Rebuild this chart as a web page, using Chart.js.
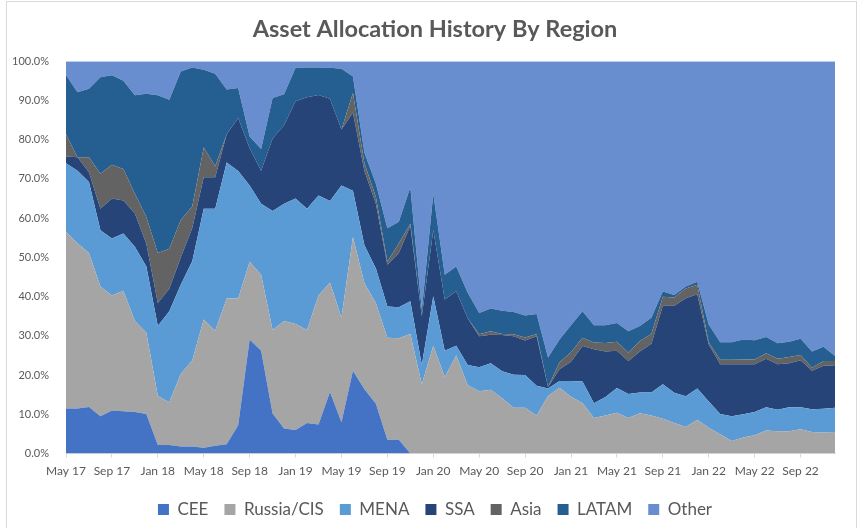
<!DOCTYPE html>
<html>
<head>
<meta charset="utf-8">
<script src="https://cdn.jsdelivr.net/npm/chart.js@4.4.0/dist/chart.umd.min.js"></script>
<style>
  html, body { margin: 0; padding: 0; background: #fff; }
  #wrap { width: 858px; height: 528px; }
</style>
</head>
<body>
<div id="wrap"><canvas id="allocChart" width="858" height="528"></canvas></div>
<script>
// ====== DATA ======
const months = [
  "May 17", "Jun 17", "Jul 17", "Aug 17", "Sep 17", "Oct 17", "Nov 17", "Dec 17",
  "Jan 18", "Feb 18", "Mar 18", "Apr 18", "May 18", "Jun 18", "Jul 18", "Aug 18",
  "Sep 18", "Oct 18", "Nov 18", "Dec 18", "Jan 19", "Feb 19", "Mar 19", "Apr 19",
  "May 19", "Jun 19", "Jul 19", "Aug 19", "Sep 19", "Oct 19", "Nov 19", "Dec 19",
  "Jan 20", "Feb 20", "Mar 20", "Apr 20", "May 20", "Jun 20", "Jul 20", "Aug 20",
  "Sep 20", "Oct 20", "Nov 20", "Dec 20", "Jan 21", "Feb 21", "Mar 21", "Apr 21",
  "May 21", "Jun 21", "Jul 21", "Aug 21", "Sep 21", "Oct 21", "Nov 21", "Dec 21",
  "Jan 22", "Feb 22", "Mar 22", "Apr 22", "May 22", "Jun 22", "Jul 22", "Aug 22",
  "Sep 22", "Oct 22", "Nov 22", "Dec 22"
];

const cee = [
  11.5, 11.5, 11.9, 9.5, 11.0, 10.8, 10.6, 10.1, 2.2, 2.2, 1.8, 1.8,
  1.5, 2.0, 2.4, 7.2, 29.1, 26.2, 10.2, 6.4, 6.0, 7.8, 7.4, 15.7,
  8.0, 21.1, 16.4, 12.7, 3.5, 3.5, 0, 0, 0, 0, 0, 0,
  0, 0, 0, 0, 0, 0, 0, 0, 0, 0, 0, 0,
  0, 0, 0, 0, 0, 0, 0, 0, 0, 0, 0, 0,
  0, 0, 0, 0, 0, 0, 0, 0
];
const russia = [
  45.0, 42.1, 39.2, 33.1, 29.3, 30.7, 23.2, 20.7, 12.5, 10.9, 18.5, 21.9,
  32.7, 29.3, 37.1, 32.3, 19.8, 19.4, 21.3, 27.4, 27.0, 23.7, 32.9, 27.9,
  26.6, 34.1, 27.0, 25.7, 26.0, 25.9, 30.5, 17.7, 27.5, 19.5, 25.0, 17.4,
  15.9, 16.3, 14.1, 11.7, 11.7, 9.7, 14.7, 16.8, 14.5, 12.9, 9.1, 9.7,
  10.4, 9.1, 10.3, 9.7, 8.9, 7.8, 6.8, 8.6, 6.6, 4.9, 3.2, 4.1,
  4.7, 5.9, 5.7, 5.7, 6.2, 5.5, 5.4, 5.3
];
const mena = [
  17.5, 18.5, 18.1, 14.3, 14.5, 14.6, 18.9, 16.9, 17.8, 23.2, 22.7, 25.3,
  28.2, 31.1, 34.7, 32.5, 19.4, 18.1, 30.3, 29.9, 32.0, 30.9, 25.5, 20.8,
  33.7, 11.8, 9.7, 8.8, 8.0, 7.9, 8.3, 4.9, 12.6, 6.7, 2.5, 5.2,
  6.1, 6.7, 6.9, 8.4, 8.3, 7.6, 1.9, 1.7, 4.0, 5.5, 3.7, 4.7,
  6.3, 6.1, 5.3, 5.9, 8.8, 7.7, 7.8, 8.0, 6.7, 5.2, 6.3, 5.9,
  5.9, 5.9, 5.5, 6.1, 5.6, 5.8, 6.0, 6.4
];
const ssa = [
  1.7, 3.4, 2.5, 5.5, 10.2, 8.4, 8.5, 5.8, 5.9, 5.7, 7.0, 8.5,
  8.0, 8.0, 7.2, 13.5, 9.5, 8.4, 18.5, 20.0, 24.8, 28.4, 25.6, 26.0,
  14.3, 19.9, 18.9, 16.5, 10.6, 13.8, 19.2, 12.4, 16.9, 13.1, 13.9, 11.9,
  7.9, 7.3, 9.2, 9.8, 8.8, 12.6, 0.4, 3.0, 4.9, 9.0, 13.8, 11.6,
  9.5, 8.4, 10.4, 12.4, 20.0, 22.2, 25.0, 24.0, 14.5, 12.7, 13.3, 12.8,
  12.2, 12.4, 11.6, 11.2, 12.0, 9.8, 11.0, 10.8
];
const asia = [
  5.7, 0, 3.8, 8.9, 8.6, 8.0, 5.0, 6.8, 12.7, 10.2, 9.5, 5.5,
  7.6, 2.8, 0, 0, 0, 0, 0, 0, 0, 0, 0, 0,
  0, 5.0, 2.0, 1.7, 0.8, 2.5, 0.6, 0, 0, 0, 0, 0,
  0.5, 0.9, 0.3, 0.5, 0.8, 0.6, 0, 1.8, 2.4, 2.1, 1.7, 2.2,
  2.3, 2.1, 2.7, 2.5, 2.3, 2.1, 2.5, 2.4, 0.5, 1.1, 1.1, 1.2,
  1.2, 1.4, 1.4, 1.6, 1.3, 0.8, 1.2, 1.1
];
const latam = [
  15.1, 16.6, 17.5, 24.6, 22.8, 22.5, 25.1, 31.4, 40.2, 38.0, 37.9, 35.4,
  19.8, 23.6, 11.4, 7.7, 3.0, 5.5, 10.3, 7.9, 8.5, 7.6, 7.0, 7.9,
  15.5, 4.2, 2.7, 3.4, 8.5, 5.5, 9.3, 1.5, 9.2, 6.3, 6.3, 6.5,
  5.4, 5.8, 5.9, 5.7, 5.6, 5.1, 7.5, 5.8, 6.9, 6.8, 4.4, 4.5,
  4.8, 5.5, 3.8, 4.1, 1.3, 0.6, 0.5, 0.8, 4.6, 4.5, 4.5, 5.1,
  4.9, 4.1, 3.9, 3.9, 4.2, 4.1, 3.6, 1.3
];
const other = [
  3.5, 7.9, 7.0, 4.1, 3.6, 5.0, 8.7, 8.3, 8.7, 9.8, 2.6, 1.6,
  2.2, 3.2, 7.2, 6.8, 19.2, 22.4, 9.4, 8.4, 1.7, 1.6, 1.6, 1.7,
  1.9, 3.9, 23.3, 31.2, 42.6, 40.9, 32.1, 63.5, 33.8, 54.4, 52.3, 59.0,
  64.2, 63.0, 63.6, 63.9, 64.8, 64.4, 75.5, 70.9, 67.3, 63.7, 67.3, 67.3,
  66.7, 68.8, 67.5, 65.4, 58.7, 59.6, 57.4, 56.2, 67.1, 71.6, 71.6, 70.9,
  71.1, 70.3, 71.9, 71.5, 70.7, 74.0, 72.8, 75.1
];

const seriesNames = ["CEE", "Russia/CIS", "MENA", "SSA", "Asia", "LATAM", "Other"];
const seriesColors = ["#4472C4", "#A5A5A5", "#5B9BD5", "#264478", "#636363", "#255E91", "#698ED0"];
const seriesValues = [cee, russia, mena, ssa, asia, latam, other];

// ====== CHART ======
Chart.defaults.font.family = "Lato, 'Liberation Sans', sans-serif";
Chart.defaults.color = "#595959";

// white background + thin chart border like the spreadsheet frame
const frame = {
  id: "frame",
  beforeDraw(chart) {
    const ctx = chart.ctx;
    ctx.save();
    ctx.fillStyle = "#fff";
    ctx.fillRect(0, 0, chart.width, chart.height);
    ctx.strokeStyle = "#D9D9D9";
    ctx.lineWidth = 1;
    ctx.strokeRect(6.5, 1.5, chart.width - 8, chart.height + 4);
    ctx.restore();
  }
};

const datasets = seriesNames.map((name, i) => ({
  label: name,
  data: seriesValues[i],
  backgroundColor: seriesColors[i],
  borderColor: seriesColors[i],
  borderWidth: 0,
  pointRadius: 0,
  tension: 0,
  fill: i === 0 ? "origin" : "-1"
}));

new Chart(document.getElementById("allocChart"), {
  type: "line",
  data: { labels: months, datasets: datasets },
  plugins: [frame],
  options: {
    responsive: false,
    animation: false,
    layout: { padding: { left: 12, right: 0, top: 10, bottom: 0 } },
    plugins: {
      tooltip: { enabled: false },
      title: {
        display: true,
        text: "Asset Allocation History By Region",
        color: "#595959",
        font: { size: 23.5, weight: "bold" },
        padding: { top: 5, bottom: 18 }
      },
      legend: {
        position: "bottom",
        labels: {
          boxWidth: 11,
          boxHeight: 11,
          padding: 16,
          color: "#595959",
          font: { size: 17 }
        }
      }
    },
    scales: {
      x: {
        offset: false,
        grid: {
          drawOnChartArea: false,
          drawTicks: true,
          tickLength: 4,
          color: (ctx) => (ctx.index % 4 === 0 ? "#D9D9D9" : "rgba(0,0,0,0)")
        },
        border: { color: "#D9D9D9" },
        ticks: {
          autoSkip: false,
          maxRotation: 0,
          padding: 6.5,
          font: { size: 12 },
          callback: (v, i) => (i % 4 === 0 ? months[i] : "")
        }
      },
      y: {
        stacked: true,
        min: 0,
        max: 100,
        afterFit: (scale) => { scale.width = 54; },
        grid: { display: false },
        border: { display: false },
        ticks: {
          stepSize: 10,
          padding: 9,
          font: { size: 11 },
          callback: (v) => v.toFixed(1) + "%"
        }
      },
      // empty right-hand margin so the plot stops where the original does
      margin: {
        type: "linear",
        position: "right",
        display: true,
        afterFit: (scale) => { scale.width = 23; },
        grid: { display: false },
        border: { display: false },
        ticks: { display: false }
      }
    }
  }
});
</script>
</body>
</html>
